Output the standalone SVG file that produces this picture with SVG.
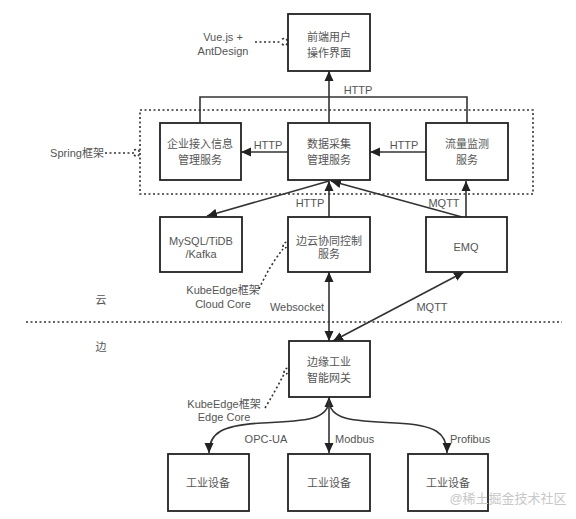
<svg xmlns="http://www.w3.org/2000/svg" width="576" height="519" viewBox="0 0 576 519">
<defs>
<marker id="ah" viewBox="0 0 10 10" refX="10" refY="5" markerWidth="10" markerHeight="10" markerUnits="userSpaceOnUse" orient="auto-start-reverse">
<path d="M0,0.5 L10,5 L0,9.5 Z" fill="#222"/>
</marker>
<style>
.box{fill:#fff;stroke:#222;stroke-width:1.8}
.t{font-family:"Liberation Sans","Noto Sans CJK SC",sans-serif;font-size:11px;fill:#555;text-anchor:middle}
.l{font-family:"Liberation Sans","Noto Sans CJK SC",sans-serif;font-size:11px;fill:#555}
.c{fill:none;stroke:#333;stroke-width:1.6}
.d{fill:none;stroke:#333;stroke-width:1.6;stroke-dasharray:2 2.5}
</style>
</defs>
<rect width="576" height="519" fill="#fff"/>

<g id="spring-frame">
<rect x="140" y="110" width="393" height="84" class="d"/>
</g>
<g id="divider">
<line x1="26" y1="322" x2="562" y2="322" class="d"/>
</g>

<g id="connectors">
<path d="M200,123 V97 H467 V123" class="c"/>
<path d="M329,123 V71" class="c" marker-end="url(#ah)"/>
<line x1="288" y1="152" x2="241" y2="152" class="c" marker-end="url(#ah)"/>
<line x1="426" y1="152" x2="370" y2="152" class="c" marker-end="url(#ah)"/>
<line x1="329" y1="181" x2="207" y2="216" class="c" marker-end="url(#ah)"/>
<line x1="329" y1="217" x2="329" y2="181" class="c" marker-end="url(#ah)"/>
<line x1="462" y1="217" x2="331" y2="181" class="c" marker-end="url(#ah)"/>
<line x1="466" y1="217" x2="466" y2="181" class="c" marker-end="url(#ah)"/>
<line x1="329" y1="341" x2="329" y2="272" class="c" marker-start="url(#ah)" marker-end="url(#ah)"/>
<line x1="333" y1="341" x2="464" y2="272" class="c" marker-start="url(#ah)" marker-end="url(#ah)"/>
<line x1="329" y1="453" x2="329" y2="397" class="c" marker-start="url(#ah)" marker-end="url(#ah)"/>
<path d="M329,400 C329,420 305,421 262,423 C222,425 209,433 209,453" class="c" marker-end="url(#ah)"/>
<path d="M329,400 C329,420 353,421 396,423 C436,425 447,433 447,453" class="c" marker-end="url(#ah)"/>
<path d="M255,42 H282 M282,39 q4,-2 6,3 q-2,5 -6,2" class="d"/>
<path d="M105,153 H134 M134,150 q4,-2 6,3 q-2,5 -6,2" class="d"/>
<path d="M259,289 Q270,265 283,249 M283,247 q0,-5 5,-5 q1,4 -3,6" class="d"/>
<path d="M265,408 Q276,390 284,374 M284,373 q0,-5 5,-5 q1,4 -3,6" class="d"/>
<text x="358" y="94" class="t">HTTP</text>
<text x="268" y="149" class="t">HTTP</text>
<text x="404" y="149" class="t">HTTP</text>
<text x="310" y="207" class="t">HTTP</text>
<text x="444" y="207" class="t">MQTT</text>
<text x="297" y="311" class="t">Websocket</text>
<text x="432" y="311" class="t">MQTT</text>
<text x="266" y="443" class="t">OPC-UA</text>
<text x="335" y="443" class="l">Modbus</text>
<text x="450" y="443" class="l">Profibus</text>
</g>

<g id="frontend">
<rect x="288" y="14" width="82" height="57" class="box"/>
<text x="329" y="41" class="t">前端用户</text>
<text x="329" y="57" class="t">操作界面</text>
</g>
<g id="vue-label">
<text x="223" y="41" class="t">Vue.js +</text>
<text x="223" y="55" class="t">AntDesign</text>
</g>
<g id="spring-label">
<text x="77" y="157" class="t">Spring框架</text>
</g>
<g id="enterprise">
<rect x="160" y="123" width="81" height="57" class="box"/>
<text x="200" y="148" class="t">企业接入信息</text>
<text x="200" y="164" class="t">管理服务</text>
</g>
<g id="collect">
<rect x="288" y="123" width="82" height="57" class="box"/>
<text x="329" y="148" class="t">数据采集</text>
<text x="329" y="164" class="t">管理服务</text>
</g>
<g id="monitor">
<rect x="426" y="123" width="82" height="57" class="box"/>
<text x="467" y="148" class="t">流量监测</text>
<text x="467" y="164" class="t">服务</text>
</g>
<g id="db">
<rect x="160" y="217" width="82" height="55" class="box"/>
<text x="201" y="245" class="t">MySQL/TiDB</text>
<text x="201" y="258" class="t">/Kafka</text>
</g>
<g id="edgecloud">
<rect x="288" y="217" width="82" height="55" class="box"/>
<text x="329" y="245" class="t">边云协同控制</text>
<text x="329" y="258" class="t">服务</text>
</g>
<g id="emq">
<rect x="426" y="217" width="81" height="55" class="box"/>
<text x="466" y="251" class="t">EMQ</text>
</g>
<g id="cloudcore-label">
<text x="223" y="294" class="t">KubeEdge框架</text>
<text x="223" y="308" class="t">Cloud Core</text>
</g>
<g id="zone-labels">
<text x="101" y="304" class="t">云</text>
<text x="101" y="351" class="t">边</text>
</g>
<g id="gateway">
<rect x="289" y="341" width="81" height="56" class="box"/>
<text x="329" y="366" class="t">边缘工业</text>
<text x="329" y="382" class="t">智能网关</text>
</g>
<g id="edgecore-label">
<text x="224" y="408" class="t">KubeEdge框架</text>
<text x="224" y="421" class="t">Edge Core</text>
</g>
<g id="dev1">
<rect x="168" y="454" width="81" height="57" class="box"/>
<text x="208" y="487" class="t">工业设备</text>
</g>
<g id="dev2">
<rect x="288" y="454" width="82" height="57" class="box"/>
<text x="329" y="487" class="t">工业设备</text>
</g>
<g id="dev3">
<rect x="408" y="454" width="80" height="57" class="box"/>
<text x="448" y="487" class="t">工业设备</text>
</g>
<g id="watermark">
<text x="508" y="503" class="t" style="font-size:13px;fill:#c8c8c8">@稀土掘金技术社区</text>
</g>
</svg>
